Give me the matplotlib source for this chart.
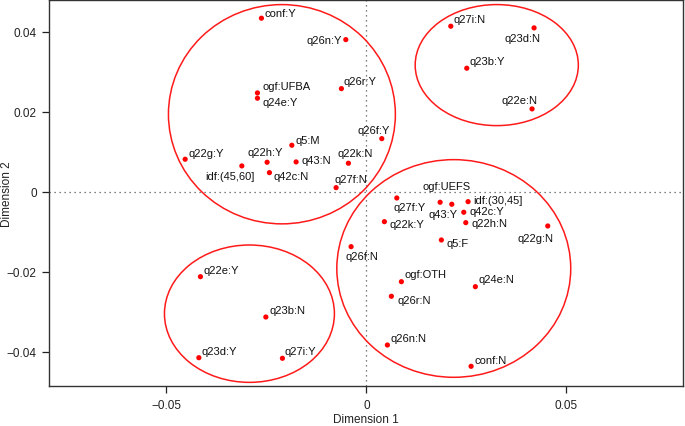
import matplotlib
matplotlib.use("Agg")
import matplotlib.pyplot as plt
from matplotlib.patches import Ellipse

plt.rcParams['font.family'] = ['Liberation Sans', 'DejaVu Sans']

labels = ["conf:Y", "q26n:Y", "ogf:UFBA", "q24e:Y", "q26r:Y", "q5:M", "q22g:Y",
          "q22h:Y", "q43:N", "idf:(45,60]", "q42c:N", "q22k:N", "q27f:N", "q26f:Y",
          "q27i:N", "q23d:N", "q23b:Y", "q22e:N",
          "ogf:UEFS", "q27f:Y", "q43:Y", "idf:(30,45]", "q42c:Y", "q22h:N", "q22k:Y",
          "q5:F", "q22g:N", "q26f:N", "ogf:OTH", "q24e:N", "q26r:N", "q26n:N", "conf:N",
          "q22e:Y", "q23b:N", "q23d:Y", "q27i:Y"]
dim1 = [-0.02625, -0.00515, -0.02725, -0.02725, -0.00625, -0.01865, -0.04533,
        -0.02483, -0.01758, -0.03115, -0.02425, -0.00450, -0.00758, 0.00385,
        0.02110, 0.04193, 0.02510, 0.04143,
        0.02135, 0.00760, 0.01843, 0.02543, 0.02435, 0.02485, 0.00450,
        0.01875, 0.04535, -0.00383, 0.00875, 0.02725, 0.00625, 0.00525, 0.02618,
        -0.04150, -0.02515, -0.04190, -0.02100]
dim2 = [0.04335, 0.03800, 0.02468, 0.02335, 0.02575, 0.01160, 0.00810,
        0.00735, 0.00743, 0.00643, 0.00475, 0.00710, 0.00100, 0.01325,
        0.04135, 0.04093, 0.03085, 0.02068,
        -0.00315, -0.00158, -0.00265, -0.00250, -0.00515, -0.00775, -0.00750,
        -0.01208, -0.00858, -0.01375, -0.02250, -0.02375, -0.02615, -0.03833, -0.04365,
        -0.02125, -0.03133, -0.04150, -0.04165]

# label offsets (pixels, x right / y up) relative to each point
label_dx = [18.5, -21.7, 28.7, 22.5, 19.0, 15.6, 20.7, -1.8, 20.2, -11.5, 22.0, 6.4, 15.0, -7.7,
            18.8, -11.7, 20.6, -12.7,
            -5.0, 13.3, 2.7, 30.0, 23.0, 23.8, 22.4, 15.9, -12.7, 11.3, 23.9, 20.7, 22.5, 20.9, 19.2,
            20.7, 21.3, 20.6, 18.0]
label_dy = [5.3, 0.0, 7.0, -4.0, 8.0, 5.0, 6.3, 10.0, 1.7, -10.3, -3.6, 10.0, 8.7, 8.4,
            7.3, -9.7, 7.3, 8.7,
            18.6, -9.3, -11.4, 2.0, 1.3, 0.0, -2.0, -3.0, -12.0, -9.0, 7.4, 7.7, -3.4, 6.7, 6.3,
            7.0, 7.0, 7.0, 7.0]

# cluster ellipses: center x, center y, width, height (data units)
ell_cx = [-0.02113, 0.03260, -0.02925, 0.02185]
ell_cy = [0.01935, 0.03163, -0.03050, -0.01920]
ell_w = [0.05675, 0.04080, 0.04250, 0.05850]
ell_h = [0.05480, 0.03025, 0.03433, 0.05440]

fig = plt.figure(figsize=(6.85, 4.27), dpi=100)
ax = fig.add_axes([49.3 / 685, 1 - 387.3 / 427, (682.7 - 49.3) / 685, (387.3 - 1.0) / 427])

ax.axhline(0, color='#555555', lw=0.9, ls=(0, (1, 3)), zorder=1)
ax.axvline(0, color='#555555', lw=0.9, ls=(0, (1, 3)), zorder=1)

for cx, cy, w, h in zip(ell_cx, ell_cy, ell_w, ell_h):
    ax.add_patch(Ellipse((cx, cy), w, h, fill=False, edgecolor='#ff1a1a', lw=1.1, zorder=2))

ax.scatter(dim1, dim2, s=14, color='#ff0000', edgecolors='none', zorder=3)
for lab, x, y, dx, dy in zip(labels, dim1, dim2, label_dx, label_dy):
    ax.annotate(lab, (x, y), xytext=(dx, dy), textcoords='offset pixels',
                ha='center', va='center', fontsize=8, color='#111111', zorder=4)

ax.set_xlim(-0.0793, 0.0791)
ax.set_ylim(-0.04865, 0.0479)
ax.set_xticks([-0.05, 0, 0.05])
ax.set_xticklabels(['\u22120.05', '0', '0.05'])
ax.set_yticks([-0.04, -0.02, 0, 0.02, 0.04])
ax.set_yticklabels(['\u22120.04', '\u22120.02', '0', '0.02', '0.04'])
ax.tick_params(direction='out', length=5, width=0.9, labelsize=8.5, colors='#222222', pad=4)
for sp in ax.spines.values():
    sp.set_color('#333333')
    sp.set_linewidth(1.0)

fig.text(366 / 685, 1 - 420.5 / 427, 'Dimension 1', fontsize=8.5, color='#222222',
         ha='center', va='center')
fig.text(7 / 685, 1 - 194 / 427, 'Dimension 2', fontsize=8.5, color='#222222',
         ha='center', va='center', rotation=90)

fig.savefig('out.png', dpi=100)
